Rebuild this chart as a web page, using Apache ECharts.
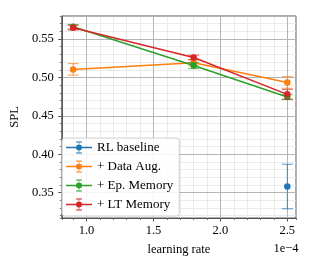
<!DOCTYPE html>
<html>
<head>
<meta charset="utf-8">
<script src="https://cdn.jsdelivr.net/npm/echarts@6/dist/echarts.min.js"></script>
<style>html,body{margin:0;padding:0;background:#fff}#c{width:325px;height:270px}</style>
</head>
<body>
<div id="c"></div>
<script>
const seriesNames = ['RL baseline', '+ Data Aug.', '+ Ep. Memory', '+ LT Memory'];
const colors = ['#1f77b4', '#ff7f0e', '#2ca02c', '#d62728'];
const learningRates = [0.9, 1.8, 2.5];
const rlMean = [null, null, 0.358];
const rlErr = [null, null, 0.029];
const augMean = [0.5105, 0.519, 0.4935];
const augErr = [0.0075, 0.004, 0.0075];
const epMean = [0.566, 0.5155, 0.4745];
const epErr = [0.003, 0.004, 0.003];
const ltMean = [0.5648, 0.526, 0.478];
const ltErr = [0.003, 0.003, 0.0065];
const yTickLabels = [0.35, 0.40, 0.45, 0.50, 0.55];
const xTickLabels = [1.0, 1.5, 2.0, 2.5];

const means = [rlMean, augMean, epMean, ltMean];
const errs = [rlErr, augErr, epErr, ltErr];
const FONT = 'Liberation Serif';

const legendIcon = 'path://M0 52H260V68H0Z M127 0H133V120H127Z M100 0H160V10H100Z M100 110H160V120H100Z M160 60A30 30 0 1 1 100 60A30 30 0 1 1 160 60Z';

const series = [];
means.forEach((m, i) => {
  const pts = [];
  const ebs = [];
  learningRates.forEach((x, j) => {
    if (m[j] != null) {
      pts.push([x, m[j]]);
      ebs.push([x, m[j] - errs[i][j], m[j] + errs[i][j]]);
    }
  });
  series.push({
    name: seriesNames[i],
    type: 'custom',
    xAxisIndex: 1, yAxisIndex: 1,
    z: 3 + i * 2,
    data: ebs,
    renderItem: function (params, api) {
      const x = api.value(0);
      const lo = api.coord([x, api.value(1)]);
      const hi = api.coord([x, api.value(2)]);
      const cw = 5.5;
      const st = { stroke: colors[i], lineWidth: 1, opacity: 0.75 };
      return {
        type: 'group',
        children: [
          { type: 'line', shape: { x1: lo[0], y1: lo[1], x2: hi[0], y2: hi[1] }, style: st },
          { type: 'line', shape: { x1: lo[0] - cw, y1: lo[1], x2: lo[0] + cw, y2: lo[1] }, style: st },
          { type: 'line', shape: { x1: hi[0] - cw, y1: hi[1], x2: hi[0] + cw, y2: hi[1] }, style: st }
        ]
      };
    },
    silent: true
  });
  series.push({
    name: seriesNames[i],
    type: 'line',
    xAxisIndex: 1, yAxisIndex: 1,
    z: 4 + i * 2,
    data: pts,
    symbol: 'circle',
    symbolSize: 6.5,
    showSymbol: true,
    lineStyle: { color: colors[i], width: 1.5 },
    itemStyle: { color: colors[i] },
    animation: false
  });
});

const chart = echarts.init(document.getElementById('c'), null, { renderer: 'canvas' });
chart.setOption({
  animation: false,
  backgroundColor: '#fff',
  color: colors,
  grid: { left: 54, right: 29, top: 16, bottom: 52, show: true, borderColor: '#555', borderWidth: 1, backgroundColor: 'transparent' },
  xAxis: [
    {
      type: 'value', min: 0.815, max: 2.565, minInterval: 0.1, maxInterval: 0.1,
      position: 'bottom', z: 0,
      axisLine: { show: false },
      axisTick: { show: true, length: 2, lineStyle: { color: '#555', width: 0.8 } },
      axisLabel: { show: false },
      splitLine: { show: true, lineStyle: { color: '#e6e6e6', width: 0.8 } }
    },
    {
      type: 'value', min: 0.815, max: 2.565, minInterval: 0.5, maxInterval: 0.5,
      position: 'bottom', z: 1,
      name: 'learning rate', nameLocation: 'middle', nameGap: 25,
      nameTextStyle: { fontFamily: FONT, fontSize: 12.5, color: '#000' },
      axisLine: { show: true, lineStyle: { color: '#555', width: 1 } },
      axisTick: { show: true, length: 3.5, lineStyle: { color: '#555', width: 1 } },
      axisLabel: {
        showMinLabel: false, showMaxLabel: false, margin: 6,
        fontFamily: FONT, fontSize: 12.5, color: '#000',
        formatter: v => xTickLabels.some(t => Math.abs(t - v) < 1e-9) ? v.toFixed(1) : ''
      },
      splitLine: { show: true, lineStyle: { color: '#b4b4b4', width: 1 } }
    }
  ],
  yAxis: [
    {
      type: 'value', min: 0.317, max: 0.58, minInterval: 0.01, maxInterval: 0.01,
      position: 'left', z: 0,
      axisLine: { show: false },
      axisTick: { show: true, length: 2, lineStyle: { color: '#555', width: 0.8 } },
      axisLabel: { show: false },
      splitLine: { show: true, lineStyle: { color: '#e6e6e6', width: 0.8 } }
    },
    {
      type: 'value', min: 0.317, max: 0.58, minInterval: 0.05, maxInterval: 0.05,
      position: 'left', z: 1,
      name: 'SPL', nameLocation: 'middle', nameGap: 37, nameRotate: 90,
      nameTextStyle: { fontFamily: FONT, fontSize: 12.5, color: '#000' },
      axisLine: { show: true, lineStyle: { color: '#555', width: 1 } },
      axisTick: { show: true, length: 3.5, lineStyle: { color: '#555', width: 1 } },
      axisLabel: {
        showMinLabel: false, showMaxLabel: false, margin: 8,
        fontFamily: FONT, fontSize: 12.5, color: '#000',
        formatter: v => yTickLabels.some(t => Math.abs(t - v) < 1e-9) ? v.toFixed(2) : ''
      },
      splitLine: { show: true, lineStyle: { color: '#b4b4b4', width: 1 } }
    }
  ],
  legend: {
    orient: 'vertical',
    left: 62, top: 138,
    padding: [3, 6, 5, 4],
    itemWidth: 26, itemHeight: 12, itemGap: 6, itemTextGap: 9,
    backgroundColor: 'rgba(255,255,255,0.85)',
    borderColor: '#d0d0d0', borderWidth: 1, borderRadius: 3,
    textStyle: { fontFamily: FONT, fontSize: 13, color: '#000' },
    itemStyle: { borderWidth: 0 },
    lineStyle: { width: 0 },
    data: seriesNames.map(n => ({ name: n, icon: legendIcon })),
    selectedMode: false,
    z: 20
  },
  graphic: [
    { type: 'text', x: 286, y: 249, z: 10, style: { text: '1e\u22124', fontFamily: FONT, fontSize: 12.5, fill: '#000', align: 'center', verticalAlign: 'middle' } }
  ],
  series: series
});
</script>
</body>
</html>
